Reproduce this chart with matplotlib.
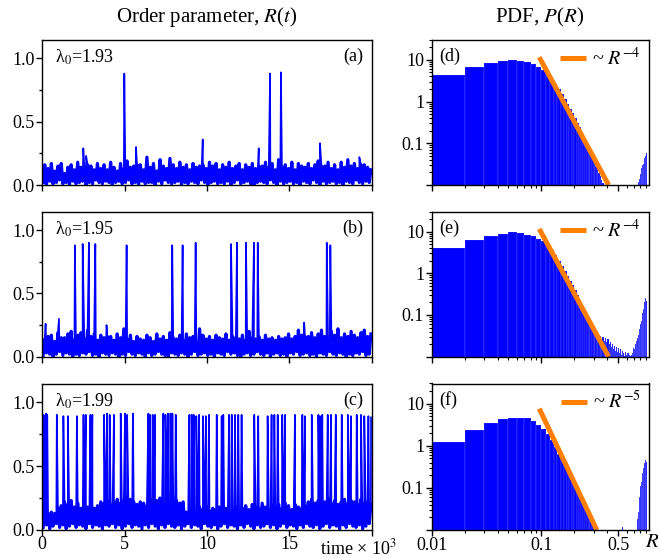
import numpy as np
import matplotlib
matplotlib.use("Agg")
import matplotlib.pyplot as plt
from matplotlib.ticker import FixedLocator, NullFormatter

plt.rcParams['font.family'] = ['Liberation Serif', 'DejaVu Serif']
plt.rcParams['mathtext.fontset'] = 'stix'
plt.rcParams['font.size'] = 13
plt.rcParams['axes.linewidth'] = 1.0

# ---------------- time series data (time in units of 10^3) ----------------
a_up = [0.16,0.13,0.17,0.11,0.15,0.17,0.09,0.14,0.16,0.12,
        0.18,0.14,0.15,0.16,0.15,0.12,0.17,0.13,0.16,0.12,
        0.18,0.14,0.11,0.17,0.13,0.19,0.14,0.15,0.16,0.16,
        0.12,0.22,0.14,0.17,0.11,0.20,0.15,0.13,0.21,0.16,
        0.13,0.18,0.14,0.16,0.12,0.17,0.14,0.15,0.16,0.13,
        0.18,0.15,0.17,0.12,0.16,0.14,0.18,0.13,0.15,0.17,
        0.12,0.16,0.14,0.17,0.13,0.15,0.15,0.18,0.14,0.17,
        0.12,0.20,0.14,0.16,0.13,0.18,0.12,0.17,0.15,0.14,
        0.17,0.13,0.16,0.19,0.15,0.15,0.18,0.13,0.16,0.12,
        0.18,0.14,0.20,0.15,0.17,0.13,0.16,0.16,0.14,0.12]
a_lo = [0.02,0.00,0.03,0.01,0.02,0.04,0.01,0.02,0.00,0.03,
        0.01,0.02,0.03,0.00,0.02,0.01,0.04,0.02,0.01,0.03,
        0.02,0.00,0.02,0.03,0.01,0.02,0.04,0.01,0.02,0.00,
        0.03,0.01,0.02,0.02,0.00,0.03,0.01,0.04,0.02,0.01,
        0.02,0.03,0.00,0.02,0.01,0.03,0.02,0.01,0.04,0.02,
        0.00,0.02,0.03,0.01,0.02,0.01,0.03,0.00,0.02,0.04,
        0.01,0.02,0.03,0.01,0.00,0.02,0.03,0.02,0.01,0.04,
        0.02,0.00,0.03,0.01,0.02,0.03,0.01,0.02,0.00,0.03,
        0.02,0.01,0.04,0.02,0.00,0.03,0.01,0.02,0.03,0.01,
        0.02,0.00,0.03,0.02,0.01,0.04,0.02,0.01,0.03,0.02]
a_spike_t = [2.49, 2.66, 4.98, 5.69, 9.74, 13.14, 13.83, 14.49, 16.86, 19.25]
a_spike_h = [0.29, 0.23, 0.88, 0.30, 0.36, 0.29, 0.88, 0.89, 0.33, 0.22]

b_up = [0.14,0.16,0.17,0.12,0.19,0.15,0.15,0.18,0.20,0.13,
        0.17,0.19,0.14,0.21,0.16,0.18,0.13,0.17,0.15,0.16,
        0.16,0.13,0.18,0.15,0.22,0.14,0.17,0.12,0.16,0.14,
        0.13,0.17,0.15,0.12,0.18,0.14,0.16,0.13,0.19,0.15,
        0.14,0.17,0.13,0.18,0.15,0.16,0.12,0.22,0.17,0.14,
        0.16,0.13,0.17,0.15,0.14,0.18,0.13,0.16,0.15,0.14,
        0.17,0.13,0.20,0.15,0.14,0.16,0.13,0.17,0.14,0.15,
        0.13,0.16,0.14,0.15,0.18,0.14,0.16,0.21,0.17,0.16,
        0.16,0.19,0.15,0.18,0.21,0.16,0.14,0.20,0.17,0.22,
        0.15,0.18,0.16,0.20,0.17,0.15,0.19,0.21,0.16,0.18]
b_lo = [0.01,0.03,0.02,0.00,0.02,0.04,0.01,0.03,0.02,0.00,
        0.02,0.01,0.03,0.02,0.04,0.01,0.02,0.00,0.03,0.02,
        0.01,0.03,0.02,0.00,0.02,0.01,0.04,0.02,0.01,0.03,
        0.02,0.00,0.03,0.01,0.02,0.04,0.02,0.01,0.00,0.03,
        0.02,0.01,0.03,0.02,0.00,0.02,0.04,0.01,0.02,0.03,
        0.01,0.02,0.00,0.03,0.02,0.01,0.04,0.02,0.03,0.01,
        0.00,0.02,0.03,0.01,0.02,0.04,0.02,0.01,0.03,0.00,
        0.02,0.03,0.01,0.02,0.00,0.03,0.02,0.04,0.01,0.02,
        0.03,0.01,0.02,0.00,0.03,0.02,0.01,0.04,0.02,0.01,
        0.03,0.02,0.00,0.02,0.01,0.03,0.02,0.04,0.01,0.02]
b_spike_t = [0.20, 1.01, 1.98, 2.45, 2.83, 3.22, 3.90, 5.12, 7.89, 8.52,
             9.31, 11.46, 11.82, 12.37, 12.85, 13.08, 15.90, 17.27, 17.49]
b_spike_h = [0.26, 0.30, 0.88, 0.89, 0.90, 0.89, 0.25, 0.88, 0.88, 0.88,
             0.90, 0.89, 0.90, 0.90, 0.90, 0.90, 0.27, 0.90, 0.88]

c_up = [0.12,0.13,0.14,0.13,
        0.17,0.19,0.22,0.20,0.23,0.18,0.21,0.17,
        0.16,0.18,0.15,0.17,0.19,
        0.22,0.21,0.23,0.20,0.22,0.24,0.21,0.23,
        0.26,0.24,0.22,
        0.20,0.22,0.21,0.19,
        0.24,0.22,0.23,0.25,0.21,0.24,0.22,0.25,0.23,0.21,0.22,
        0.14,0.16,
        0.17,0.15,0.18,0.16,0.19,0.15,0.17,0.16,0.18,0.15,0.17,0.14,0.16,0.18,0.15,
        0.17,0.19,0.16,0.20,0.18,0.17,0.21,0.18,0.16,0.19,
        0.18,0.20,0.17,0.21,0.19,0.16,0.20,0.18,0.17,0.19,
        0.22,0.24,0.21,0.23,0.20,0.22,0.25,0.21,0.23,0.20,
        0.22,0.24,0.21,0.23,0.22,0.20,0.24,0.21,0.22,0.20]
c_lo = [0.02,0.04,0.01,0.03,0.05,0.02,0.04,0.01,0.03,0.05,
        0.02,0.04,0.03,0.01,0.05,0.02,0.04,0.03,0.01,0.04,
        0.03,0.05,0.02,0.04,0.01,0.03,0.05,0.02,0.04,0.03,
        0.01,0.04,0.02,0.05,0.03,0.01,0.04,0.02,0.05,0.03,
        0.02,0.04,0.01,0.03,0.05,0.02,0.04,0.03,0.01,0.05,
        0.03,0.02,0.04,0.01,0.03,0.05,0.02,0.04,0.03,0.01,
        0.04,0.02,0.05,0.03,0.01,0.04,0.02,0.03,0.05,0.02,
        0.04,0.01,0.03,0.05,0.02,0.04,0.03,0.01,0.04,0.02,
        0.05,0.03,0.02,0.04,0.01,0.03,0.05,0.02,0.04,0.03,
        0.01,0.04,0.02,0.05,0.03,0.02,0.04,0.01,0.03,0.05]
c_spike_t = [0.08, 0.22, 0.30, 0.88, 1.28, 1.55, 2.10, 2.50, 2.64, 2.92,
             3.04, 3.75, 3.93, 4.09, 4.35, 4.76, 5.02, 5.15, 5.50, 6.44,
             6.54, 6.70, 6.84, 7.35, 7.48, 7.63, 7.78, 7.90, 8.10, 8.93,
             9.07, 9.19, 9.35, 9.52, 9.75, 9.93, 10.12, 10.59, 10.89, 10.99,
             11.34, 11.50, 11.70, 11.90, 12.10, 12.87, 13.11, 13.68, 13.92, 14.09,
             14.29, 14.57, 14.74, 15.34, 15.79, 15.95, 16.36, 16.76, 16.86, 17.00,
             17.33, 17.53, 17.82, 18.18, 18.55, 18.74, 19.09, 19.35, 19.55, 19.80,
             19.96]
c_spike_h = [0.90, 0.91, 0.90, 0.90, 0.89, 0.89, 0.89, 0.90, 0.90, 0.90,
             0.90, 0.90, 0.91, 0.90, 0.90, 0.91, 0.91, 0.90, 0.91, 0.91,
             0.90, 0.90, 0.90, 0.91, 0.90, 0.91, 0.91, 0.91, 0.90, 0.90,
             0.90, 0.90, 0.89, 0.90, 0.89, 0.89, 0.90, 0.90, 0.89, 0.90,
             0.90, 0.90, 0.90, 0.90, 0.90, 0.90, 0.89, 0.89, 0.90, 0.90,
             0.90, 0.90, 0.90, 0.90, 0.90, 0.89, 0.90, 0.90, 0.89, 0.90,
             0.90, 0.90, 0.90, 0.90, 0.90, 0.89, 0.90, 0.90, 0.89, 0.89,
             0.88]

# ---------------- PDF data: bins of width 0.01 starting at 0.01 ----------------
bin_width = 0.01
pdf_d = [4.3, 6.7, 8.6, 9.5, 10.0, 9.6, 8.9, 8.0, 6.9, 5.6,
         4.4, 3.4, 2.6, 2.0, 1.5, 1.15, 0.88, 0.68, 0.52, 0.40,
         0.31, 0.24, 0.185, 0.145, 0.115, 0.090, 0.071, 0.056, 0.045, 0.036,
         0.029, 0.024, 0.019, 0.016, 0.013, 0.011, 0, 0, 0, 0,
         0, 0, 0, 0, 0, 0, 0, 0, 0, 0,
         0, 0, 0, 0, 0, 0, 0, 0, 0, 0,
         0, 0, 0, 0, 0, 0, 0, 0, 0, 0,
         0, 0, 0, 0, 0, 0.012, 0.015, 0.014, 0.020, 0.018,
         0.026, 0.024, 0.030, 0.034, 0.032, 0.038, 0.044, 0.050, 0.055, 0.060,
         0.045, 0, 0, 0]
pdf_e = [4.1, 6.4, 8.0, 9.0, 9.6, 9.3, 8.5, 7.7, 6.8, 5.9,
         4.6, 3.6, 2.7, 2.0, 1.5, 1.15, 0.88, 0.67, 0.51, 0.39,
         0.30, 0.23, 0.18, 0.14, 0.11, 0.085, 0.066, 0.052, 0.043, 0.037,
         0.034, 0.030, 0.028, 0.032, 0.026, 0.030, 0.024, 0.028, 0.022, 0.026,
         0.020, 0.023, 0.017, 0.020, 0.015, 0.018, 0.014, 0.017, 0.013, 0.016,
         0.012, 0.015, 0.011, 0.014, 0.012, 0.012, 0.0105, 0.013, 0.011, 0.012,
         0.0105, 0.012, 0.011, 0.0105, 0.012, 0.011, 0.012, 0.014, 0.016, 0.015,
         0.019, 0.020, 0.024, 0.022, 0.028, 0.033, 0.030, 0.045, 0.050, 0.060,
         0.070, 0.085, 0.11, 0.10, 0.14, 0.18, 0.20, 0.26, 0.30, 0.22,
         0.12, 0, 0, 0]
pdf_f = [1.2, 2.4, 3.5, 4.3, 4.5, 4.6, 4.6, 3.9, 3.1, 2.5,
         1.9, 1.35, 0.95, 0.65, 0.48, 0.36, 0.27, 0.20, 0.15, 0.11,
         0.085, 0.068, 0.055, 0.045, 0.037, 0.031, 0.025, 0.021, 0.017, 0.014,
         0.012, 0.0105, 0, 0, 0, 0, 0, 0, 0, 0,
         0, 0, 0, 0, 0, 0, 0, 0, 0, 0,
         0, 0, 0, 0.012, 0, 0, 0, 0, 0, 0,
         0, 0, 0, 0, 0, 0, 0, 0, 0, 0,
         0, 0, 0, 0.012, 0.018, 0.027, 0.040, 0.060, 0.085, 0.11,
         0.14, 0.16, 0.22, 0.28, 0.30, 0.34, 0.38, 0.45, 0.51, 0.42,
         0.20, 0, 0, 0]

# power-law guide lines (endpoints as drawn)
line_d_R = [0.0956, 0.41]
line_d_P = [11.6, 0.01]
line_e_R = [0.0956, 0.41]
line_e_P = [11.6, 0.01]
line_f_R = [0.0956, 0.32]
line_f_P = [7.6, 0.01]

lambdas = ['1.93', '1.95', '1.99']
panel_left = ['(a)', '(b)', '(c)']
panel_right = ['(d)', '(e)', '(f)']
exponents = ['-4', '-4', '-5']

BLUE = '#0000ff'
ORANGE = '#ff7f00'


def noise_series(up, lo):
    n = len(up)
    dt = 20.0 / n
    t = np.empty(2 * n)
    r = np.empty(2 * n)
    t[0::2] = (np.arange(n) + 0.25) * dt
    t[1::2] = (np.arange(n) + 0.75) * dt
    r[0::2] = lo
    r[1::2] = up
    return t, r


def full_series(up, lo, st, sh):
    t, r = noise_series(up, lo)
    t = np.concatenate([t, np.asarray(st)])
    r = np.concatenate([r, np.asarray(sh)])
    o = np.argsort(t, kind='stable')
    return t[o], r[o]


fig = plt.figure(figsize=(6.58, 5.58), dpi=100)
W, H = 658.0, 558.0
rows = [(40, 185), (211.7, 356.7), (383.5, 530)]
lx0, lx1 = 42.3, 371.7
rx0, rx1 = 431.7, 649.0

series = [(a_up, a_lo, a_spike_t, a_spike_h),
          (b_up, b_lo, b_spike_t, b_spike_h),
          (c_up, c_lo, c_spike_t, c_spike_h)]
pdfs = [pdf_d, pdf_e, pdf_f]
lines = [(line_d_R, line_d_P), (line_e_R, line_e_P), (line_f_R, line_f_P)]

bin_left = np.round(np.arange(1, len(pdf_d) + 1) * bin_width, 2)

for i, (top, bot) in enumerate(rows):
    y0 = 1 - bot / H
    h = (bot - top) / H
    # ---- left: time series
    ax = fig.add_axes([lx0 / W, y0, (lx1 - lx0) / W, h])
    up, lo, st, sh = series[i]
    tn, rn = noise_series(up, lo)
    ax.plot(tn, rn, color=BLUE, lw=2.3, solid_joinstyle='round')
    t, r = full_series(up, lo, st, sh)
    ax.plot(t, r, color=BLUE, lw=1.2)
    ax.set_xlim(0, 20)
    ax.set_ylim(0, 1.145)
    ax.set_yticks([0, 0.5, 1.0])
    ax.set_yticklabels(['0.0', '0.5', '1.0'])
    ax.yaxis.set_minor_locator(FixedLocator([0.25, 0.75]))
    ax.set_xticks([0, 5, 10, 15, 20])
    if i == 2:
        ax.set_xticklabels(['0', '5', '10', '15', ''])
        ax.text(0.843, -0.123, 'time × 10$^3$', transform=ax.transAxes,
                ha='left', va='center', fontsize=13)
    else:
        ax.set_xticklabels([])
    ax.tick_params(which='major', direction='out', length=4, width=1.0, pad=1.5, labelsize=13)
    ax.tick_params(axis='x', which='major', pad=0.5)
    ax.tick_params(which='minor', direction='out', length=2.5, width=1.0)
    ax.text(0.039, 0.945, 'λ$_0$=' + lambdas[i], transform=ax.transAxes,
            ha='left', va='top', fontsize=13)
    ax.text(0.975, 0.945, panel_left[i], transform=ax.transAxes,
            ha='right', va='top', fontsize=13)

    # ---- right: PDF
    axr = fig.add_axes([rx0 / W, y0, (rx1 - rx0) / W, h])
    vals = np.asarray(pdfs[i], dtype=float)
    m = vals > 0
    axr.bar(bin_left[m], vals[m], width=bin_width, align='edge', color=BLUE,
            edgecolor=(1, 1, 1, 0.3), linewidth=0.35, log=True)
    lr, lp = lines[i]
    axr.plot(lr, lp, color=ORANGE, lw=3.6, solid_capstyle='butt',
             label='~ $R^{' + exponents[i] + '}$')
    axr.set_xscale('log')
    axr.set_yscale('log')
    axr.set_xlim(0.01, 0.957)
    axr.set_ylim(0.01, 30)
    axr.xaxis.set_major_locator(FixedLocator([0.01, 0.1, 0.5]))
    minor_x = [k * 0.01 for k in range(2, 10)] + [k * 0.1 for k in range(2, 10) if k != 5]
    axr.xaxis.set_minor_locator(FixedLocator(minor_x))
    axr.xaxis.set_minor_formatter(NullFormatter())
    if i == 2:
        axr.set_xticklabels(['0.01', '0.1', '0.5'])
        axr.text(1.015, -0.085, '$R$', transform=axr.transAxes,
                 ha='center', va='center', fontsize=15)
    else:
        axr.set_xticklabels([])
    axr.yaxis.set_major_locator(FixedLocator([0.01, 0.1, 1, 10]))
    axr.set_yticklabels(['', '0.1', '1', '10'])
    minor_y = [k * d for d in (0.01, 0.1, 1) for k in range(2, 10)] + [20, 30]
    axr.yaxis.set_minor_locator(FixedLocator(minor_y))
    axr.yaxis.set_minor_formatter(NullFormatter())
    axr.tick_params(which='major', direction='out', length=4, width=1.0, pad=1.5, labelsize=13)
    axr.tick_params(axis='x', which='major', pad=1.0)
    axr.tick_params(which='minor', direction='out', length=2.5, width=0.8)
    axr.text(0.035, 0.945, panel_right[i], transform=axr.transAxes,
             ha='left', va='top', fontsize=13)
    axr.legend(loc='upper right', frameon=False, handlelength=1.3,
               handletextpad=0.3, borderaxespad=0.2, fontsize=14.5,
               borderpad=0.2)

fig.text(207 / W, 1 - 17 / H, 'Order parameter, $R$($t$)', ha='center', va='center', fontsize=15)
fig.text(540 / W, 1 - 17 / H, 'PDF, $P$($R$)', ha='center', va='center', fontsize=15)

fig.savefig('out.png', dpi=100)
